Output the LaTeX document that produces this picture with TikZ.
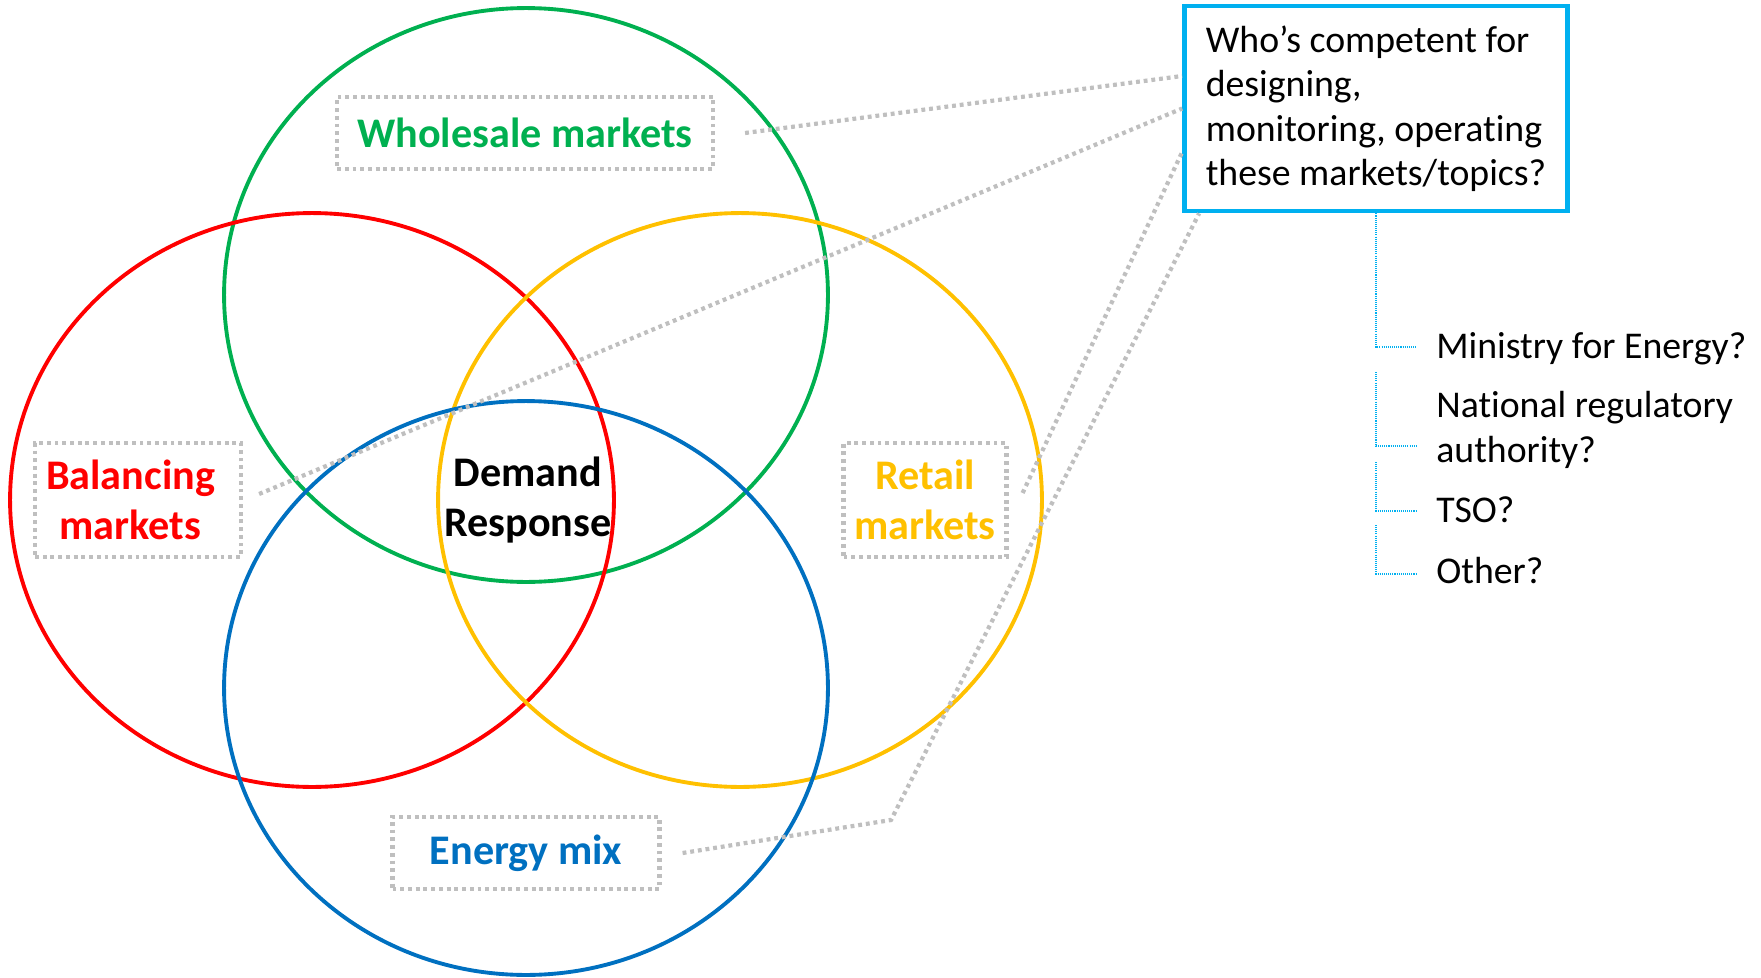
\documentclass[tikz,border=0pt]{standalone}
\usepackage{fontspec}
\setmainfont{Carlito}[Ligatures=NoCommon]
\usetikzlibrary{positioning}
\definecolor{venngreen}{HTML}{00B050}
\definecolor{vennred}{HTML}{FF0000}
\definecolor{vennyellow}{HTML}{FFC000}
\definecolor{vennblue}{HTML}{0070C0}
\definecolor{askblue}{HTML}{00B0F0}
\definecolor{linkgray}{HTML}{BFBFBF}
\tikzset{
	set/.style={line width=2.2pt},
	tag/.style={draw=linkgray, line width=2.4pt, dash pattern=on 2.2pt off 2.2pt, font=\fontsize{24}{28.5}\selectfont\bfseries, align=center, inner sep=0pt},
	link/.style={draw=linkgray, line width=2.4pt, dash pattern=on 2.2pt off 2.2pt},
	branch/.style={draw=askblue, line width=0.6pt, dash pattern=on 0.6pt off 0.6pt},
	answer/.style={font=\fontsize{21.5}{25.5}\selectfont, align=left, anchor=base west, inner sep=0pt}
}
\begin{document}
\begin{tikzpicture}[x=0.02cm,y=-0.02cm]
	\useasboundingbox (0,0) rectangle (1761,977);
	% the four sets
	\draw[set,venngreen] (526,295) ellipse [x radius=6.04cm,y radius=5.74cm];
	\draw[set,vennred] (312,500) ellipse [x radius=6.04cm,y radius=5.74cm];
	\draw[set,vennyellow] (740,500) ellipse [x radius=6.04cm,y radius=5.74cm];
	\draw[set,vennblue] (526,688) ellipse [x radius=6.04cm,y radius=5.74cm];
	% labels
	\node[tag,text=venngreen,minimum width=7.52cm,minimum height=1.44cm] (whole) at (525,133) {Wholesale markets};
	\node[tag,text=vennred,minimum width=4.12cm,minimum height=2.28cm] (bal) at (138,500) {Balancing\hspace*{0.3cm}\\markets\hspace*{0.3cm}};
	\node[tag,text=vennyellow,minimum width=3.26cm,minimum height=2.28cm] (ret) at (925,500) {Retail\\markets};
	\node[tag,text=vennblue,minimum width=5.34cm,minimum height=1.44cm] (mix) at (526,853) {Energy mix};
	\node[font=\fontsize{24}{28.5}\selectfont\bfseries,align=center] (dr) at (528,500) {Demand\\Response};
	% question
	\node[draw=askblue,line width=2.7pt,minimum width=7.66cm,minimum height=4.1cm,align=left,
		font=\fontsize{21.5}{25.3}\selectfont] (ask) at (1376,108.5) {Who’s competent for\\designing,\\monitoring, operating\\these markets/topics?};
	\coordinate (bend) at (891,820);
	\draw[link] ([xshift=0.6cm]whole.east) -- ([yshift=0.65cm]ask.west);
	\draw[link] ([xshift=0.32cm,yshift=0.12cm]bal.east) -- (ask.west);
	\draw[link] ([xshift=0.28cm,yshift=0.14cm]ret.east) -- ([yshift=-0.87cm]ask.west);
	\draw[link] ([xshift=0.42cm]mix.east) -- (bend) -- ([xshift=0.34cm]ask.south west);
	% answers
	\node[answer] (min) at (1436,358) {Ministry for Energy?};
	\node[answer] (nra) at (1436,462) {National regulatory\\authority?};
	\node[answer] (tso) at (1436,522) {TSO?};
	\node[answer] (oth) at (1436,583) {Other?};
	\coordinate (j1) at (1416,347);
	\coordinate (s2) at (1376,372);
	\coordinate (j2) at (1416,446);
	\coordinate (s3) at (1376,462);
	\coordinate (j3) at (1416,511);
	\coordinate (s4) at (1376,525);
	\coordinate (j4) at (1416,574);
	\draw[branch] (ask.south) |- (j1);
	\draw[branch] (s2) |- (j2);
	\draw[branch] (s3) |- (j3);
	\draw[branch] (s4) |- (j4);
\end{tikzpicture}
\end{document}
